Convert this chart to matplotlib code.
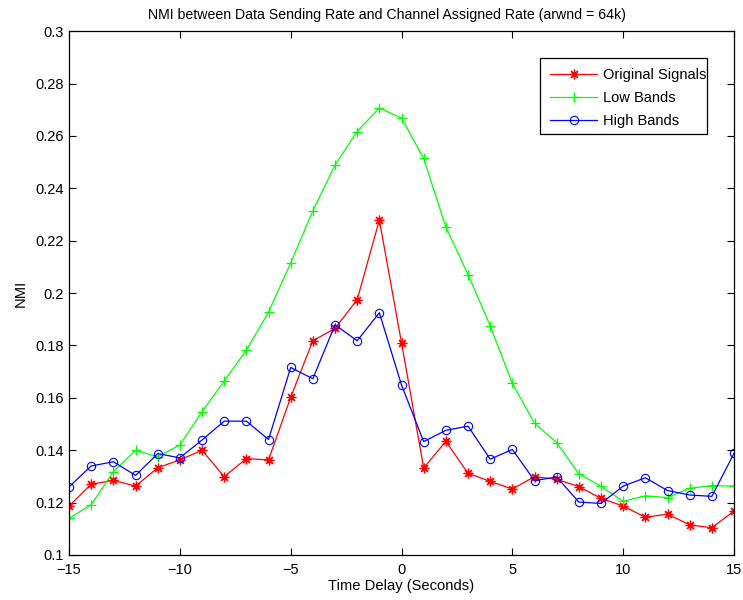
import numpy as np
import matplotlib
matplotlib.use("Agg")
import matplotlib.pyplot as plt
from matplotlib.patches import Rectangle

plt.rcParams['font.family'] = ['Liberation Sans', 'DejaVu Sans']

delays = list(range(-15, 16))
original = [0.1187, 0.1270, 0.1285, 0.1263, 0.1333, 0.1363, 0.1400, 0.1299, 0.1368, 0.1363,
            0.1602, 0.1818, 0.1865, 0.1975, 0.2279, 0.1810, 0.1332, 0.1434, 0.1312, 0.1281,
            0.1252, 0.1299, 0.1289, 0.1261, 0.1216, 0.1187, 0.1144, 0.1156, 0.1115, 0.1104, 0.1168]
low = [0.1140, 0.1192, 0.1318, 0.1400, 0.1375, 0.1420, 0.1547, 0.1664, 0.1782, 0.1927,
       0.2115, 0.2314, 0.2489, 0.2617, 0.2707, 0.2668, 0.2514, 0.2252, 0.2071, 0.1875,
       0.1655, 0.1503, 0.1429, 0.1310, 0.1262, 0.1205, 0.1226, 0.1219, 0.1255, 0.1265, 0.1263]
high = [0.1260, 0.1340, 0.1356, 0.1304, 0.1387, 0.1371, 0.1439, 0.1511, 0.1511, 0.1441,
        0.1716, 0.1673, 0.1879, 0.1818, 0.1925, 0.1649, 0.1433, 0.1476, 0.1492, 0.1366,
        0.1403, 0.1284, 0.1298, 0.1202, 0.1197, 0.1263, 0.1295, 0.1246, 0.1229, 0.1224, 0.1388]

xticks = [-15, -10, -5, 0, 5, 10, 15]
yticks = [0.1, 0.12, 0.14, 0.16, 0.18, 0.2, 0.22, 0.24, 0.26, 0.28, 0.3]
yticklabels = ['0.1', '0.12', '0.14', '0.16', '0.18', '0.2', '0.22', '0.24', '0.26', '0.28', '0.3']

fig = plt.figure(figsize=(7.43, 6.0), dpi=100)
ax = fig.add_axes([0.0929, 0.075, 0.895, 0.873])

lw = 0.9
ax.plot(delays, original, color='#ff0000', marker=(8, 2, 0), markersize=7, linewidth=lw,
        markeredgewidth=0.9, label='Original Signals')
ax.plot(delays, low, color='#00ff00', marker='+', markersize=7.5, linewidth=lw,
        markeredgewidth=0.9, label='Low Bands')
ax.plot(delays, high, color='#0000ff', marker='o', markersize=6, linewidth=lw,
        markerfacecolor='none', markeredgewidth=0.8, label='High Bands')

ax.set_xlim(-15, 15)
ax.set_ylim(0.1, 0.3)
ax.set_xticks(xticks)
ax.set_xticklabels(['\u221215', '\u221210', '\u22125', '0', '5', '10', '15'])
ax.set_yticks(yticks)
ax.set_yticklabels(yticklabels)
ax.tick_params(direction='in', top=True, right=True, length=5, width=0.8, labelsize=10.5)
ax.tick_params(axis='x', pad=6)
for s in ax.spines.values():
    s.set_linewidth(0.9)

fig.text(387 / 743, 1 - 15 / 600, 'NMI between Data Sending Rate and Channel Assigned Rate (arwnd = 64k)',
         fontsize=10.2, ha='center', va='center')
ax.set_xlabel('Time Delay (Seconds)', fontsize=10.6, labelpad=1)
ax.set_ylabel('NMI', fontsize=10.6, labelpad=6)

# legend frame (MATLAB style, tight on the right)
ax.add_patch(Rectangle((0.708, 0.8034), 0.2514, 0.1451, transform=ax.transAxes,
                       facecolor='white', edgecolor='black', linewidth=0.9, zorder=4))
leg = ax.legend(loc='upper left', bbox_to_anchor=(0.7232, 0.930), fontsize=10.5,
                frameon=False, handlelength=3.26, borderpad=0, labelspacing=0.62,
                handletextpad=0.36, borderaxespad=0)
leg.set_zorder(5)

fig.savefig('out.png', dpi=100)
